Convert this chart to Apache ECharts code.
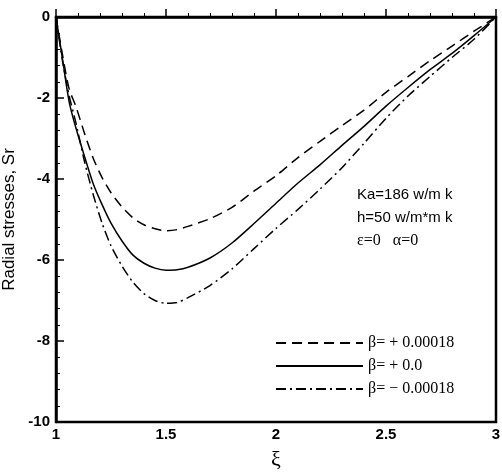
<!DOCTYPE html>
<html>
<head>
<meta charset="utf-8">
<script src="https://cdn.jsdelivr.net/npm/echarts@6/dist/echarts.min.js"></script>
<style>
  html, body { margin: 0; padding: 0; background: #fff; }
  #chart { width: 502px; height: 474px; }
</style>
</head>
<body>
<div id="chart"></div>
<script>
// xi positions where the curves were read
var xi = [1.0, 1.03, 1.06, 1.09, 1.13, 1.17, 1.21, 1.25, 1.3, 1.35, 1.4, 1.45, 1.5, 1.55, 1.6,
          1.7, 1.8, 1.9, 2.0, 2.1, 2.2, 2.3, 2.4, 2.5, 2.6, 2.7, 2.8, 2.9, 3.0];

// beta = +0.00018 (dashed)
var srPlus = [0, -0.95, -1.78, -2.2, -2.88, -3.5, -3.97, -4.34, -4.69, -4.96, -5.13, -5.23, -5.28, -5.25, -5.17,
              -4.98, -4.7, -4.3, -3.92, -3.47, -3.07, -2.68, -2.3, -1.86, -1.47, -1.08, -0.72, -0.35, 0];
// beta = 0 (solid)
var srZero = [0, -1.05, -2.1, -2.73, -3.45, -4.13, -4.64, -5.09, -5.53, -5.88, -6.08, -6.2, -6.25, -6.24, -6.18,
              -5.95, -5.58, -5.1, -4.6, -4.1, -3.65, -3.17, -2.7, -2.2, -1.74, -1.3, -0.9, -0.46, 0];
// beta = -0.00018 (dash-dot)
var srMinus = [0, -1.1, -1.95, -2.6, -3.58, -4.4, -5.1, -5.65, -6.15, -6.55, -6.83, -7.0, -7.07, -7.05, -6.93,
               -6.63, -6.22, -5.72, -5.22, -4.75, -4.25, -3.72, -3.12, -2.5, -1.95, -1.47, -1.0, -0.55, 0];

var names = ['β= + 0.00018', 'β= + 0.0', 'β= − 0.00018'];
var notes = ['Ka=186 w/m k', 'h=50 w/m*m k'];

function pairs(ys) {
    return xi.map(function (x, i) { return [x, ys[i]]; });
}

var chart = echarts.init(document.getElementById('chart'));

function mkSeries(name, ys, dash) {
    return {
        name: name,
        type: 'line',
        data: pairs(ys),
        smooth: 0.25,
        symbol: 'none',
        color: '#000',
        lineStyle: {color: '#000', width: 1.5, type: dash}
    };
}

chart.setOption({
    animation: false,
    grid: {left: 56, top: 17, right: 6, bottom: 52, outerBoundsMode: 'none',
           show: true, borderColor: '#000', borderWidth: 2.5},
    xAxis: {
        type: 'value', min: 1, max: 3, interval: 0.5,
        name: 'ξ', nameLocation: 'middle', nameGap: 27,
        nameTextStyle: {fontFamily: 'Liberation Serif', fontSize: 22, color: '#000'},
        axisLine: {lineStyle: {color: '#000', width: 2.5}},
        axisTick: {inside: true, length: 8, lineStyle: {color: '#000', width: 1.5}},
        minorTick: {show: true, splitNumber: 5, length: 4, lineStyle: {color: '#000', width: 1}},
        axisLabel: {fontFamily: 'Liberation Sans', fontWeight: 'bold', fontSize: 15, color: '#000', margin: 5},
        splitLine: {show: false}
    },
    yAxis: {
        type: 'value', min: -10, max: 0, interval: 2,
        name: 'Radial stresses, Sr', nameLocation: 'middle', nameGap: 34, nameRotate: 90,
        nameTextStyle: {fontFamily: 'Liberation Sans', fontSize: 17, color: '#000'},
        axisLine: {lineStyle: {color: '#000', width: 2.5}},
        axisTick: {inside: true, length: 8, lineStyle: {color: '#000', width: 1.5}},
        minorTick: {show: true, splitNumber: 5, length: 4, lineStyle: {color: '#000', width: 1}},
        axisLabel: {fontFamily: 'Liberation Sans', fontWeight: 'bold', fontSize: 15, color: '#000', margin: 6},
        splitLine: {show: false}
    },
    legend: {
        orient: 'vertical', left: 270, top: 330, itemGap: 7,
        itemWidth: 87, itemHeight: 14,
        itemStyle: {opacity: 0},
        textStyle: {fontFamily: 'Liberation Serif', fontSize: 16, color: '#000'},
        data: names
    },
    graphic: [
        {type: 'text', left: 357, top: 187, style: {text: notes[0], font: '15px "Liberation Sans"', fill: '#000'}},
        {type: 'text', left: 357, top: 210, style: {text: notes[1], font: '15px "Liberation Sans"', fill: '#000'}},
        {type: 'text', left: 357, top: 233, style: {text: 'ε=0   α=0', font: '16px "Liberation Serif"', fill: '#000'}}
    ],
    series: [
        mkSeries(names[0], srPlus, [10, 6]),
        mkSeries(names[1], srZero, 'solid'),
        mkSeries(names[2], srMinus, [10, 4, 2, 4])
    ]
});
</script>
</body>
</html>
